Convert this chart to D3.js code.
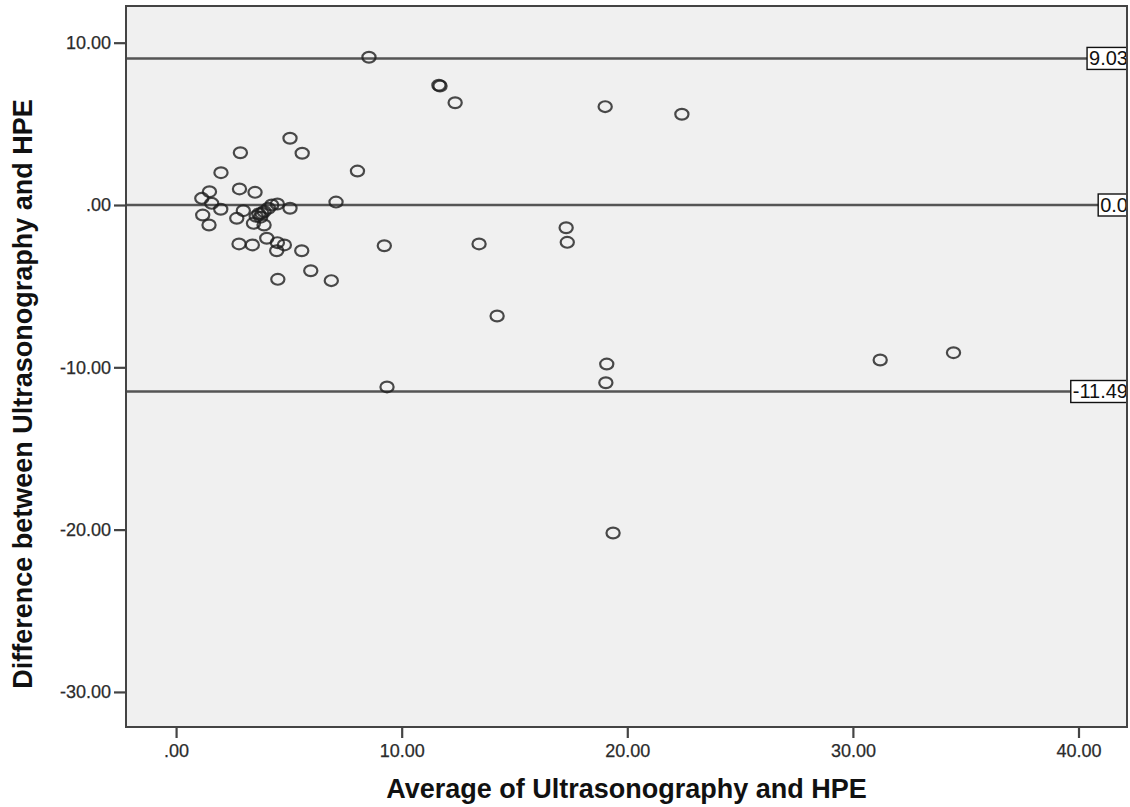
<!DOCTYPE html>
<html>
<head>
<meta charset="utf-8">
<script src="https://cdn.jsdelivr.net/npm/d3@7"></script>
<style>
  body { margin: 0; background: #fff; }
  svg { display: block; font-family: "Liberation Sans", Arial, sans-serif; }
</style>
</head>
<body>
<svg id="chart" width="1130" height="807"></svg>
<script>
'use strict';

// average of the two methods (x) and their difference (y)
const avgVals = [8.55, 11.65, 11.70, 12.37, 19.02, 22.42, 5.05, 2.85, 5.59, 1.99,
  8.04, 1.48, 2.81, 3.50, 1.14, 1.58, 7.09, 1.98, 2.98, 1.18,
  1.46, 2.69, 3.43, 3.90, 3.80, 4.09, 4.24, 4.49, 5.05, 3.67,
  3.75, 3.90, 3.55, 2.79, 3.38, 4.02, 4.49, 4.80, 4.46, 5.57,
  5.97, 4.51, 6.88, 9.23, 13.43, 17.29, 17.34, 14.23, 9.35, 19.09,
  19.05, 31.21, 34.46, 19.37];
const diffVals = [9.10, 7.38, 7.33, 6.30, 6.06, 5.59, 4.11, 3.22, 3.19, 1.99,
  2.09, 0.82, 0.99, 0.78, 0.41, 0.10, 0.18, -0.26, -0.35, -0.62,
  -1.23, -0.82, -1.13, -1.23, -0.51, -0.20, 0.00, 0.06, -0.20, -0.55,
  -0.75, -0.40, -0.70, -2.40, -2.46, -2.05, -2.32, -2.46, -2.82, -2.82,
  -4.05, -4.58, -4.66, -2.51, -2.40, -1.40, -2.30, -6.84, -11.21, -9.80,
  -10.95, -9.55, -9.10, -20.21];

const refValues = [9.03, 0, -11.49];
const refLabels = ["9.03", "0.0", "-11.49"];

const xTicks = [0, 10, 20, 30, 40];
const yTicks = [10, 0, -10, -20, -30];

const X_TITLE = "Average of Ultrasonography and HPE";
const Y_TITLE = "Difference between Ultrasonography and HPE";

const WIDTH = 1130, HEIGHT = 807;
const margin = { top: 6, right: 3, bottom: 80, left: 126 };
const PLOT_BG = "#f0f0f0";
const INK = "#2b2b2b";

const svg = d3.select("#chart");

const x = d3.scaleLinear().domain([-2.22, 42.15]).range([margin.left, WIDTH - margin.right]);
const y = d3.scaleLinear().domain([12.26, -32.16]).range([margin.top, HEIGHT - margin.bottom]);

// spss style numbers: ".00", "10.00", "-10.00" (plain hyphen)
const fmt = v => d3.format(".2f")(v).replace("\u2212", "-").replace(/^(-?)0\./, "$1.");

const [x0, x1] = x.range();
const [y0, y1] = y.range();

svg.append("rect")
  .attr("x", x0).attr("y", y0)
  .attr("width", x1 - x0).attr("height", y1 - y0)
  .attr("fill", PLOT_BG);

svg.append("clipPath").attr("id", "plot-clip")
  .append("rect")
  .attr("x", x0).attr("y", y0)
  .attr("width", x1 - x0).attr("height", y1 - y0);

const plot = svg.append("g").attr("clip-path", "url(#plot-clip)");

// reference lines
plot.selectAll("line.ref")
  .data(refValues)
  .enter()
  .append("line")
  .attr("class", "ref")
  .attr("x1", x0).attr("x2", x1)
  .attr("y1", d => y(d)).attr("y2", d => y(d))
  .attr("stroke", "#555")
  .attr("stroke-width", 2.4);

// points
plot.selectAll("ellipse")
  .data(avgVals.map((a, i) => [a, diffVals[i]]))
  .enter()
  .append("ellipse")
  .attr("cx", d => x(d[0]))
  .attr("cy", d => y(d[1]))
  .attr("rx", 6.6)
  .attr("ry", 5.4)
  .attr("fill", "none")
  .attr("stroke", "#1e1e1e")
  .attr("stroke-opacity", 0.8)
  .attr("stroke-width", 2.2);

// line labels, boxed and pushed against the right edge
refValues.forEach((v, i) => {
  const g = plot.append("g");
  const t = g.append("text")
    .attr("font-size", 20)
    .attr("fill", "#111")
    .attr("dy", "0.35em")
    .attr("y", y(v))
    .text(refLabels[i]);
  const w = t.node().getComputedTextLength();
  const left = x1 - w - 1;
  t.attr("x", left + 2);
  g.insert("rect", "text")
    .attr("x", left)
    .attr("y", y(v) - 11)
    .attr("width", w + 8)
    .attr("height", 22)
    .attr("fill", "#fff")
    .attr("stroke", "#111")
    .attr("stroke-width", 1.4);
});

// frame
svg.append("rect")
  .attr("x", x0).attr("y", y0)
  .attr("width", x1 - x0).attr("height", y1 - y0)
  .attr("fill", "none")
  .attr("stroke", "#444")
  .attr("stroke-width", 2);

// axes
const axisX = svg.append("g")
  .attr("transform", `translate(0,${y1})`)
  .call(d3.axisBottom(x).tickValues(xTicks).tickFormat(fmt).tickSize(11).tickPadding(6));
const axisY = svg.append("g")
  .attr("transform", `translate(${x0},0)`)
  .call(d3.axisLeft(y).tickValues(yTicks).tickFormat(fmt).tickSize(12).tickPadding(3));

[axisX, axisY].forEach(a => {
  a.select(".domain").remove();
  a.selectAll(".tick line").attr("stroke", "#444").attr("stroke-width", 2.2);
  a.selectAll(".tick text")
    .attr("font-size", 18)
    .attr("font-family", "'Liberation Sans', Arial, sans-serif")
    .attr("fill", INK)
    .attr("stroke", INK)
    .attr("stroke-width", 0.25);
});

// titles
svg.append("text")
  .attr("x", (x0 + x1) / 2)
  .attr("y", 798)
  .attr("text-anchor", "middle")
  .attr("font-size", 27)
  .attr("font-weight", "bold")
  .attr("fill", "#111")
  .text(X_TITLE);

svg.append("text")
  .attr("transform", "translate(32,394) rotate(-90)")
  .attr("text-anchor", "middle")
  .attr("font-size", 27)
  .attr("font-weight", "bold")
  .attr("fill", "#111")
  .text(Y_TITLE);
</script>
</body>
</html>
